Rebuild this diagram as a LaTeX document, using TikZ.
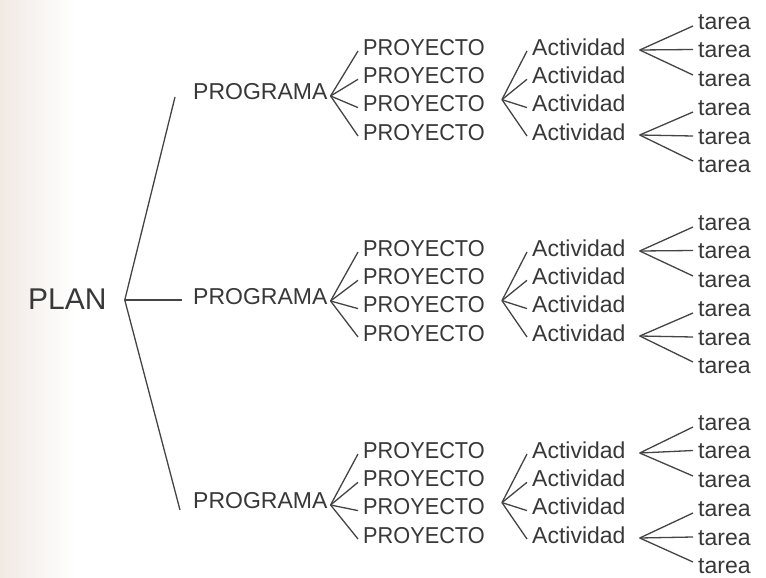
\documentclass[tikz,border=0pt]{standalone}
\usepackage{fontspec}
\setmainfont{Liberation Sans}
\usetikzlibrary{calc}
\definecolor{ink}{HTML}{383838}
\definecolor{wire}{HTML}{444444}
\definecolor{paper}{HTML}{F1E9E4}
\tikzset{
  lbl/.style={inner sep=0pt, anchor=west, text=ink, font=\fontsize{23}{23}\selectfont, text height=16.5pt, text depth=0pt},
  planlbl/.style={lbl, font=\fontsize{30}{30}\selectfont, text height=21.5pt},
  wirestyle/.style={draw=wire, line width=1.3pt},
}
\newcommand\myblock[4]{% #1 name, #2 y offset, #3 PROGRAMA row, #4 tarea offset
  \node[lbl] (g#1) at (193, #3) {PROGRAMA};
  \foreach \i/\yy in {1/47,2/75.3,3/103.6,4/132} {
    \node[lbl] (p#1-\i) at (363, \yy+#2) {\scalebox{0.945}[1]{PROYECTO}};
    \node[lbl] (a#1-\i) at (532, \yy+#2) {Actividad};
  }
  \foreach \i/\yy in {1/21,2/49.5,3/78,4/107,5/136,6/164} {
    \node[lbl] (t#1-\i) at (698, \yy+#4) {tarea};
  }
  \coordinate (gf#1) at ($(g#1.east)+(3,5)$);
  \coordinate (pf#1) at ($(p#1-3.east)+(17,-4)$);
  \coordinate (af#1) at ($(a#1-1.east)+(14,3)$);
  \coordinate (bf#1) at ($(a#1-4.east)+(14,3)$);
  \foreach \i in {1,...,4} {
    \draw[wirestyle] (gf#1) -- ($(p#1-\i.west)+(-5,4)$);
    \draw[wirestyle] (pf#1) -- ($(a#1-\i.west)+(-5,4)$);
  }
  \draw[wirestyle] (af#1) -- ($(t#1-1.west)+(-5,5)$);
  \draw[wirestyle] (af#1) -- ($(t#1-2.west)+(-5,0)$);
  \draw[wirestyle] (af#1) -- ($(t#1-3.west)+(-5,-3)$);
  \draw[wirestyle] (bf#1) -- ($(t#1-4.west)+(-5,5)$);
  \draw[wirestyle] (bf#1) -- ($(t#1-5.west)+(-5,0)$);
  \draw[wirestyle] (bf#1) -- ($(t#1-6.west)+(-5,-3)$);
}
\begin{document}
\begin{tikzpicture}[x=1pt,y=-1pt]
  \useasboundingbox (0,0) rectangle (766,578);
  \fill[white] (0,0) rectangle (766,578);
  \shade[left color=paper, right color=white] (0,0) rectangle (75,578);
  \node[planlbl] (plan) at (28,299) {PLAN};
  \coordinate (planf) at ($(plan.east)+(18,1)$);
  \myblock{1}{0}{91}{0}
  \myblock{2}{201}{296}{201}
  \myblock{3}{403}{500}{401}
  \draw[wirestyle] (planf) -- ($(g1.west)+(-18,6)$);
  \draw[wirestyle] (planf) -- ($(g2.west)+(-11,4)$);
  \draw[wirestyle] (planf) -- ($(g3.west)+(-13,10)$);
\end{tikzpicture}
\end{document}
